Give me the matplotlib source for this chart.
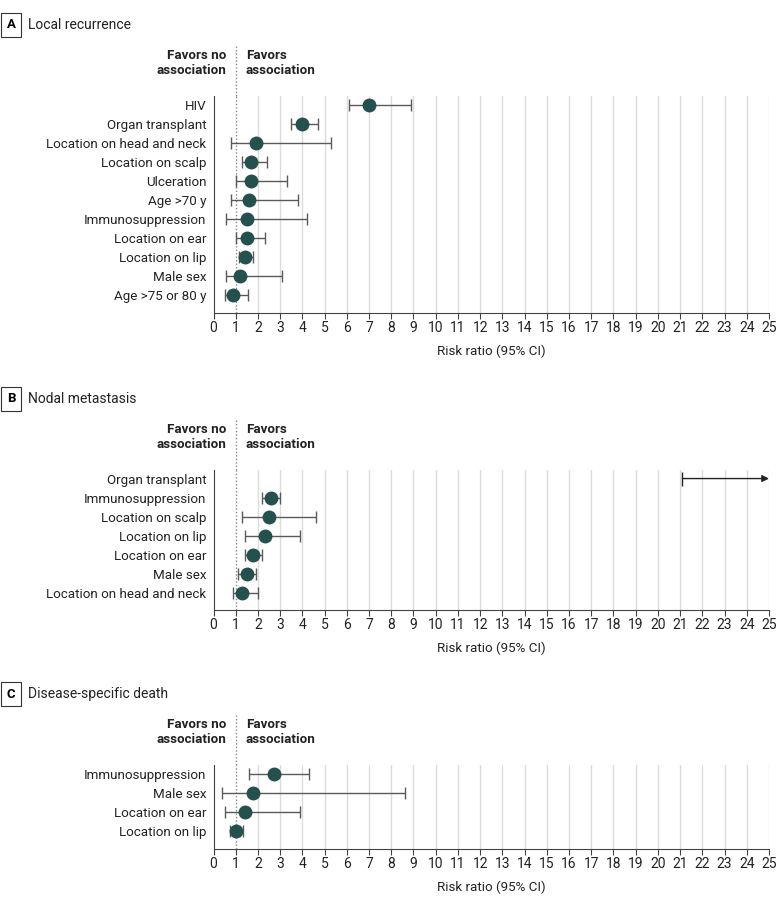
import matplotlib
matplotlib.use('Agg')
import matplotlib.pyplot as plt
import numpy as np

plt.rcParams['font.family'] = ['Roboto', 'DejaVu Sans']

# Panel A: local recurrence
a_labels = ['HIV', 'Organ transplant', 'Location on head and neck', 'Location on scalp',
            'Ulceration', 'Age >70 y', 'Immunosuppression', 'Location on ear',
            'Location on lip', 'Male sex', 'Age >75 or 80 y']
a_rr = [7.0, 4.0, 1.9, 1.7, 1.7, 1.6, 1.5, 1.5, 1.4, 1.2, 0.9]
a_lo = [6.1, 3.5, 0.8, 1.3, 1.0, 0.8, 0.58, 1.0, 1.13, 0.58, 0.53]
a_hi = [8.9, 4.7, 5.3, 2.4, 3.3, 3.8, 4.2, 2.3, 1.8, 3.1, 1.54]

# Panel B: nodal metastasis (organ transplant: estimate off scale, CI runs past 25)
b_labels = ['Organ transplant', 'Immunosuppression', 'Location on scalp', 'Location on lip',
            'Location on ear', 'Male sex', 'Location on head and neck']
b_rr = [np.nan, 2.6, 2.5, 2.3, 1.8, 1.5, 1.3]
b_lo = [21.1, 2.2, 1.3, 1.4, 1.4, 1.1, 0.88]
b_hi = [np.nan, 3.0, 4.6, 3.9, 2.2, 1.9, 2.0]

# Panel C: disease-specific death
c_labels = ['Immunosuppression', 'Male sex', 'Location on ear', 'Location on lip']
c_rr = [2.73, 1.8, 1.4, 1.0]
c_lo = [1.6, 0.38, 0.52, 0.73]
c_hi = [4.3, 8.6, 3.9, 1.31]

xticks = list(range(0, 26))
dot_color = '#24504e'
bar_color = '#5a5a5a'
txt = '#222222'

W, H = 780, 906
fig = plt.figure(figsize=(W / 100, H / 100), dpi=100)


def px_axes(left, right, top, bottom):
    return fig.add_axes([left / W, 1 - bottom / H, (right - left) / W, (bottom - top) / H])


def panel(letter, title, labels, rr, lo, hi, top, bottom, title_y, favors_y):
    ax = px_axes(213.5, 769, top, bottom)
    n = len(labels)
    y = np.arange(n)
    for g in range(2, 26):
        ax.axvline(g, color='#dcdcdc', lw=1, zorder=0)
    ax.axvline(1, color='#888888', lw=1, ls=(0, (1, 1.5)), zorder=1)
    for i in range(n):
        if np.isnan(hi[i]):
            # interval extends beyond the axis
            ax.annotate('', xy=(25, y[i]), xytext=(lo[i], y[i]),
                        arrowprops=dict(arrowstyle='-|>', color='#222222', lw=1,
                                        mutation_scale=10, shrinkA=0, shrinkB=0),
                        annotation_clip=False)
            ax.plot([lo[i]], [y[i]], marker='|', ms=10, color='#222222', mew=1)
        else:
            ax.errorbar(rr[i], y[i], xerr=[[rr[i] - lo[i]], [hi[i] - rr[i]]],
                        fmt='o', ms=9, color=dot_color, ecolor=bar_color,
                        elinewidth=1, capsize=4.5, capthick=1, zorder=3)
    ax.set_xlim(0, 25)
    ax.set_ylim(n - 1 + 0.92, -0.45)
    ax.set_yticks(y)
    ax.set_yticklabels(labels, fontsize=9.6, color=txt)
    ax.tick_params(axis='y', length=0, pad=5)
    ax.set_xticks(xticks)
    ax.set_xticklabels([str(t) for t in xticks], fontsize=10, color=txt)
    ax.tick_params(axis='x', length=4, width=0.8, color='#444444', pad=2)
    for s in ['top', 'right']:
        ax.spines[s].set_visible(False)
    for s in ['left', 'bottom']:
        ax.spines[s].set_color('#444444')
        ax.spines[s].set_linewidth(0.8)
    ax.set_xlabel('Risk ratio (95% CI)', fontsize=9.6, color=txt, labelpad=7)

    # panel letter and title
    fig.text(11 / W, 1 - title_y / H, letter, fontsize=9.5, fontweight='bold', ha='center', va='center',
             bbox=dict(boxstyle='square,pad=0.45', fc='white', ec='#333333', lw=0.8))
    fig.text(28 / W, 1 - title_y / H, title, fontsize=10, ha='left', va='center', color=txt)

    # favors headers
    fig.text(226 / W, 1 - favors_y / H, 'Favors no\nassociation', fontsize=9.6, fontweight='bold',
             ha='right', va='center', linespacing=1.25, color=txt)
    fig.text(246 / W, 1 - favors_y / H, 'Favors\nassociation', fontsize=9.6, fontweight='bold',
             ha='left', va='center', linespacing=1.25, color=txt)
    ax.plot([1, 1], [-0.45, -0.45 - (top - favors_y + 18) / 19.2], color='#888888', lw=1,
            ls=(0, (1, 1.5)), clip_on=False)
    return ax


panel('A', 'Local recurrence', a_labels, a_rr, a_lo, a_hi, 96, 313, 25, 63)
panel('B', 'Nodal metastasis', b_labels, b_rr, b_lo, b_hi, 470, 610, 399, 437)
panel('C', 'Disease-specific death', c_labels, c_rr, c_lo, c_hi, 765, 849, 694, 732)

fig.savefig('out.png', dpi=100)
